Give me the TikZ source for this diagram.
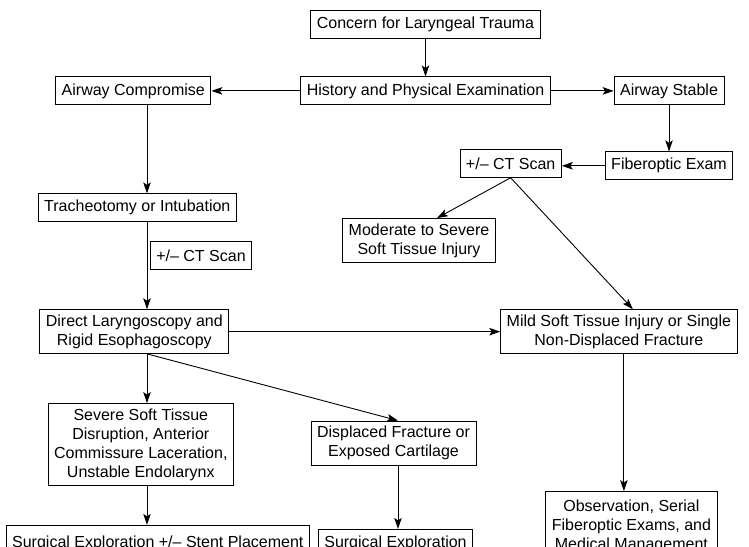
\documentclass[tikz,border=0pt]{standalone}
\usepackage{fontspec}
\setmainfont{Liberation Sans}
\usetikzlibrary{arrows.meta, positioning, calc}

\begin{document}
\begin{tikzpicture}[
    x=1pt, y=-1pt,
    box/.style={rectangle, draw, line width=0.9pt, align=center, font=\fontsize{16}{19}\selectfont, inner xsep=6pt, inner ysep=5pt, minimum height=28pt},
    arrow/.style={-{Stealth[length=11pt, width=7.5pt, inset=2.5pt]}, line width=0.9pt},
]
    \clip (0,0) rectangle (749,546);
    \coordinate (spine) at (147,0);

    \node[box] (concern) at (425.5,24) {Concern for Laryngeal Trauma};
    \node[box, below=38pt of concern] (history) {History and Physical Examination};
    \node[box, left=89pt of history] (compromise) {Airway Compromise};
    \node[box, right=63pt of history] (stable) {Airway Stable};
    \node[box, below=46pt of stable] (fiber) {Fiberoptic Exam};
    \node[box, left=43pt of fiber, yshift=2.5pt] (ctright) {+/– CT Scan};
    \node[box] (moderate) at (419,240.5) {Moderate to Severe\\Soft Tissue Injury};
    \node[box, below=88pt of compromise, xshift=4pt] (trach) {Tracheotomy or Intubation};
    \node[box] (ctleft) at (201,255.5) {+/– CT Scan};
    \node[box, below=87pt of trach, xshift=-3pt] (direct) {Direct Laryngoscopy and\\Rigid Esophagoscopy};
    \node[box, right=271pt of direct] (mild) {Mild Soft Tissue Injury or Single\\Non-Displaced Fracture};
    \node[box, below=49pt of direct, xshift=6.5pt] (severe) {Severe Soft Tissue\\Disruption, Anterior\\Commissure Laceration,\\Unstable Endolarynx};
    \node[box] (displaced) at (393.5,443) {Displaced Fracture or\\Exposed Cartilage};
    \node[box, below=39pt of severe, xshift=17pt, minimum height=36pt] (stent) {Surgical Exploration +/– Stent Placement};
    \node[box, right=8pt of stent, anchor=north west, yshift=-4pt, minimum height=28pt] (surgical) at (stent.north east) {Surgical Exploration};
    \node[box, below=137pt of mild, xshift=12.5pt, minimum height=70pt] (observation) {Observation, Serial\\Fiberoptic Exams, and\\Medical Management};

    \draw[arrow] (concern) -- (history);
    \draw[arrow] (history) -- (compromise);
    \draw[arrow] (history) -- (stable);
    \draw[arrow] (stable) -- (fiber);
    \draw[arrow] (fiber.west) -- (fiber.west -| ctright.east);
    \draw[arrow] (ctright.south) -- ([xshift=18pt]moderate.north);
    \draw[arrow] (ctright.south) -- ([xshift=14pt]mild.north);
    \draw[arrow] (compromise.south -| spine) -- (trach.north -| spine);
    \draw[arrow] (trach.south -| spine) -- (direct.north -| spine);
    \draw[arrow] (direct.east) -- (direct.east -| mild.west);
    \draw[arrow] (direct.south -| spine) -- (severe.north -| spine);
    \draw[arrow] ([xshift=13.5pt]direct.south) -- ([xshift=4.5pt]displaced.north);
    \draw[arrow] (severe.south -| spine) -- (stent.north -| spine);
    \draw[arrow] ([xshift=4.5pt]displaced.south) -- ([xshift=4.5pt]displaced.south |- surgical.north);
    \draw[arrow] ([xshift=5pt]mild.south) -- ([xshift=5pt]mild.south |- observation.north);
\end{tikzpicture}
\end{document}
